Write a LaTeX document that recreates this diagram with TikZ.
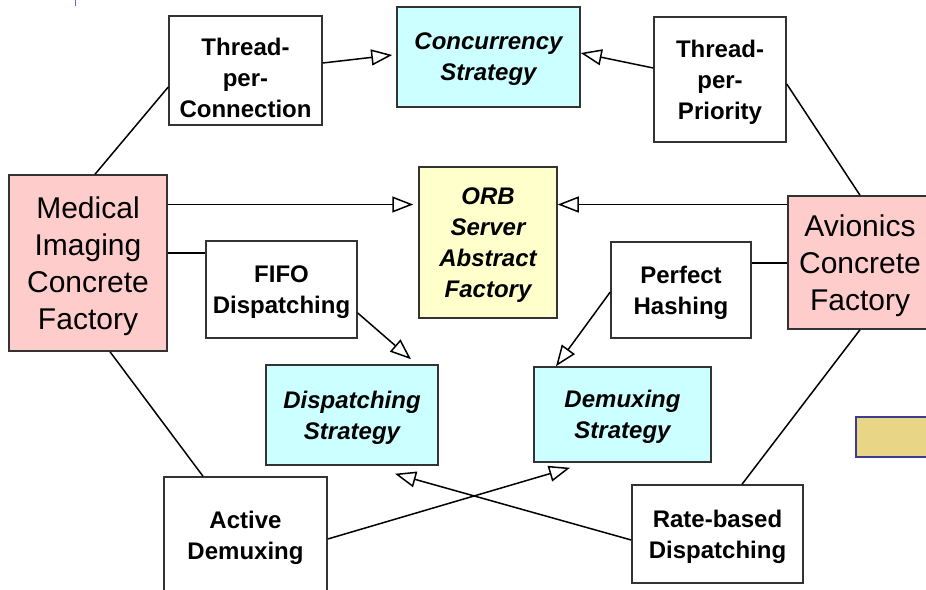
\documentclass[tikz,border=0pt]{standalone}
\usepackage{fontspec}
\setmainfont{Liberation Sans}
\usetikzlibrary{arrows.meta}
\definecolor{cyanfill}{HTML}{CCFFFF}
\definecolor{pinkfill}{HTML}{FFCCCC}
\definecolor{yellowfill}{HTML}{FFFFCC}
\definecolor{tanfill}{HTML}{E8D585}
\definecolor{tanedge}{HTML}{3C3C96}
\definecolor{edgegray}{HTML}{333333}
\definecolor{tickblue}{HTML}{5070F0}

\begin{document}
\begin{tikzpicture}[x=1pt,y=-1pt,
  box/.style={draw=edgegray, line width=1.5pt, fill=white, rectangle, inner sep=0pt},
  strat/.style={box, fill=cyanfill},
  concrete/.style={box, fill=pinkfill},
  abstract/.style={box, fill=yellowfill},
  txt/.style={align=center, inner sep=0pt, text depth=0pt, font=\fontsize{24}{31}\selectfont\bfseries},
  itxt/.style={align=center, inner sep=0pt, text depth=0pt, font=\fontsize{24}{31}\selectfont\bfseries\itshape},
  bigtxt/.style={align=center, inner sep=0pt, text depth=0pt, font=\fontsize{30}{37}\selectfont},
  link/.style={line width=1.5pt, black},
  isa/.style={link, -{Triangle[open, length=21pt, width=16pt, fill=white]}},
]
\useasboundingbox (0,0) rectangle (926,589);
\fill[white] (0,0) rectangle (926,589);
\draw[tickblue, line width=0.8pt] (75,0) -- (75,6);

% concrete factories
\node[concrete, bigtxt, minimum width=158pt, minimum height=176pt] (med) at (88,263)
  {Medical\\Imaging\\Concrete\\Factory};
\node[concrete, bigtxt, minimum width=144pt, minimum height=133pt] (avi) at (860,262.5)
  {Avionics\\Concrete\\Factory};

% abstract factory
\node[abstract, itxt, minimum width=138pt, minimum height=151pt] (orb) at (488,242.5)
  {ORB\\Server\\Abstract\\Factory};

% strategies
\node[strat, itxt, minimum width=183pt, minimum height=100pt] (conc) at (488.5,57)
  {Concurrency\\Strategy};
\node[strat, itxt, minimum width=172pt, minimum height=100pt] (dis) at (352,415)
  {Dispatching\\Strategy};
\node[strat, itxt, minimum width=177pt, minimum height=95pt] (dem) at (622.5,414.5)
  {Demuxing\\Strategy};

% concrete strategies
\node[box, minimum width=153pt, minimum height=109pt] (tpc) at (245.5,70.5) {};
\node[txt] (tpclbl) at ([yshift=-7pt]tpc.center) {Thread-\\per-\\Connection};
\node[box, txt, minimum width=132pt, minimum height=125pt] (tpp) at (720,79.5)
  {Thread-\\per-\\Priority};
\node[box, txt, minimum width=151pt, minimum height=97pt] (fifo) at (281.5,289.5)
  {FIFO\\Dispatching};
\node[box, txt, minimum width=140pt, minimum height=96pt] (ph) at (681,290)
  {Perfect\\Hashing};
\node[box, minimum width=163pt, minimum height=118pt] (ad) at (245.5,536) {};
\node[txt] (adlbl) at ([yshift=1pt]ad.center) {Active\\Demuxing};
\node[box, txt, minimum width=171pt, minimum height=98pt] (rb) at (717.5,534)
  {Rate-based\\Dispatching};

% partly visible block at the right edge
\node[draw=tanedge, fill=tanfill, line width=1.5pt, inner sep=0pt,
      minimum width=90pt, minimum height=40pt] (tan) at (901,437) {};

% factory-to-product links
\draw[link] ([xshift=7pt]med.north) -- ([yshift=-16.5pt]tpc.west);
\draw[link] ([yshift=10pt]med.east) -- ([yshift=36.5pt]fifo.west);
\draw[link] ([xshift=22pt]med.south) -- ([xshift=-42.5pt]ad.north);
\draw[link] ([yshift=-4.5pt]tpp.east) -- (avi.north);
\draw[link] ([yshift=-0.5pt]avi.west) -- ([yshift=27pt]ph.east);
\draw[link] (avi.south) -- ([xshift=24.5pt]rb.north);

% generalisation arrows
\draw[isa] ([yshift=58.5pt]med.east) -- ([xshift=-5pt,yshift=38pt]orb.west);
\draw[isa] ([yshift=58pt]avi.west) -- ([yshift=38pt]orb.east);
\draw[isa] ([yshift=7.5pt]tpc.east) -- ([xshift=-4pt,yshift=2pt]conc.west);
\draw[isa] ([yshift=11.5pt]tpp.west) -- ([yshift=4pt]conc.east);
\draw[isa] ([yshift=-23.5pt]fifo.east) -- ([xshift=59pt,yshift=5pt]dis.north);
\draw[isa] ([yshift=-2pt]ph.west) -- ([xshift=-66.5pt]dem.north);
\draw[isa] ([yshift=-3pt]ad.east) -- ([xshift=-52.5pt,yshift=-5pt]dem.south);
\draw[isa] ([yshift=-6pt]rb.west) -- ([xshift=43pt,yshift=-8pt]dis.south);
\end{tikzpicture}
\end{document}
